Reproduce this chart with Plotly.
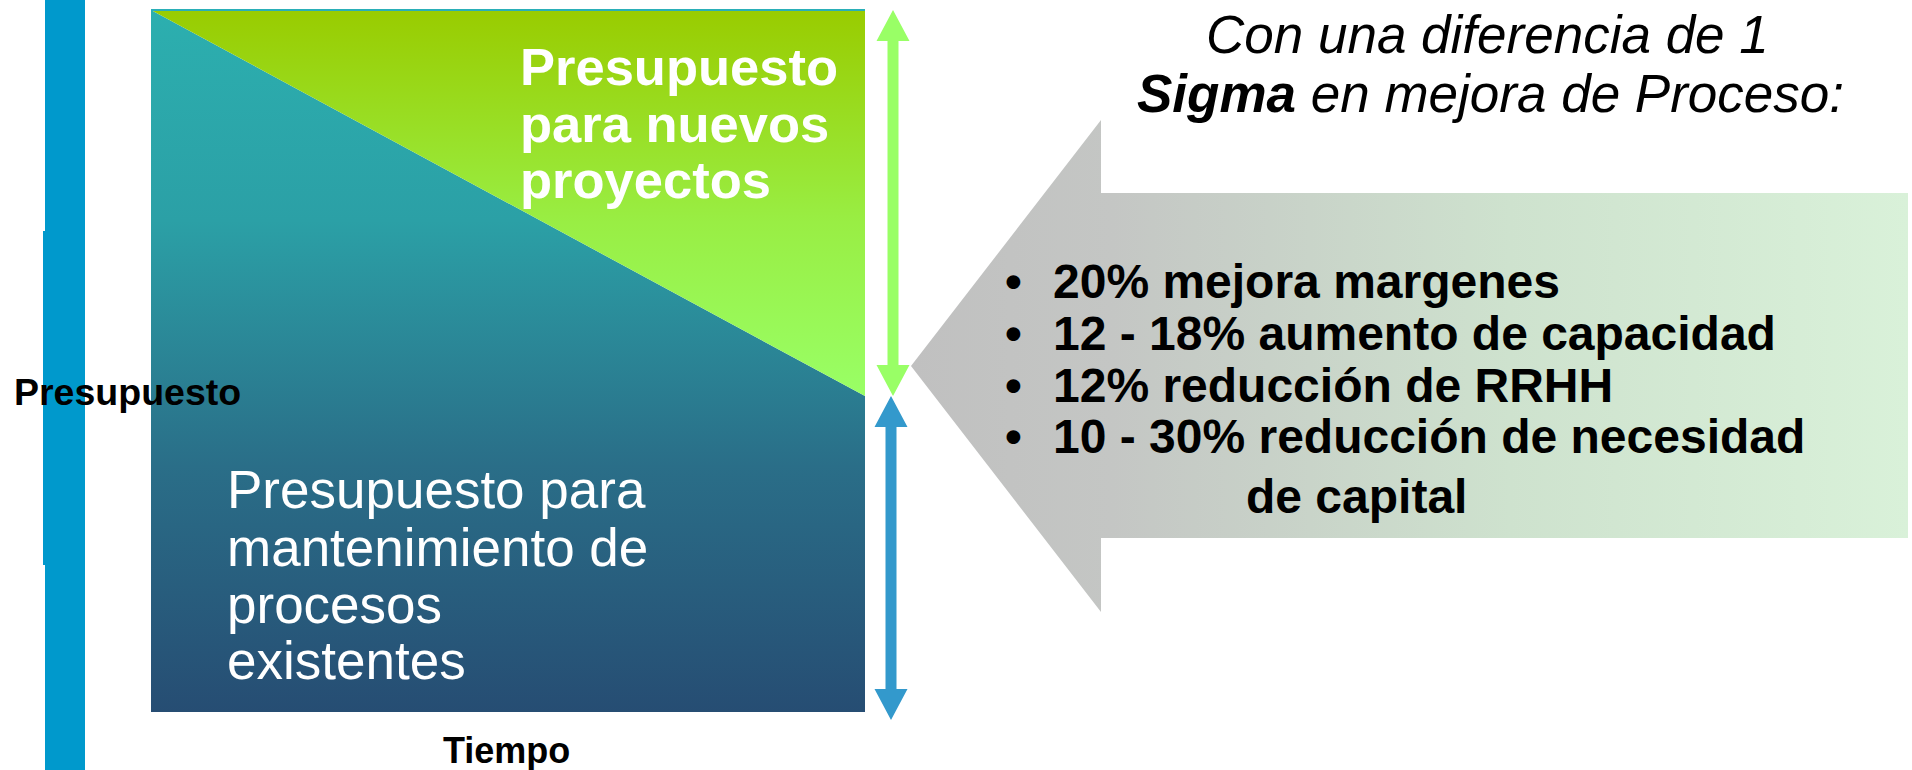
import plotly.graph_objects as go

# ---------------- data ----------------
time_span = [0, 1]                       # start / end of the period shown
maintenance_share = [100, 45]            # % of budget for maintaining existing processes
total_budget = [100, 100]                # total budget (%)
axis_labels = {"y": "Presupuesto", "x": "Tiempo"}
new_projects_label = ["Presupuesto", "para nuevos", "proyectos"]
maintenance_label = ["Presupuesto para", "mantenimiento de", "procesos", "existentes"]
title_lines = ["<i>Con una diferencia de 1</i>",
               "<i><b>Sigma</b> en mejora de Proceso:</i>"]
bullet_items = ["20% mejora margenes",
                "12 - 18% aumento de capacidad",
                "12% reducción de RRHH",
                "10 - 30% reducción de necesidad"]
bullet_continuation = "de capital"

# ---------------- layout geometry (pixels) ----------------
W, H = 1912, 770
BX0, BX1, BY0, BY1 = 151, 865, 10, 712          # budget box on page
sx = (BX1 - BX0) / (time_span[1] - time_span[0])
sy = (BY1 - BY0) / total_budget[0]
FONT = "Liberation Sans, Arial, sans-serif"

fig = go.Figure()

t0, t1 = time_span
m0, m1 = maintenance_share
top0, top1 = total_budget

# maintenance area (vertical gradient teal -> dark blue)
fig.add_trace(go.Scatter(
    x=[t0, t0, t1, t1, t0], y=[0, m0, m1, 0, 0], mode="lines", fill="toself",
    line=dict(width=0),
    fillgradient=dict(type="vertical", start=0, stop=top0,
                      colorscale=[[0, "#264D73"], [0.35, "#2A6E88"],
                                  [0.7, "#2BA0A6"], [1, "#2CAFAF"]]),
    hoverinfo="skip", xaxis="x", yaxis="y"))

# new projects area (vertical gradient light green -> olive green)
fig.add_trace(go.Scatter(
    x=[t0, t1, t1, t0], y=[top0, top1, m1, top0], mode="lines", fill="toself",
    line=dict(width=0),
    fillgradient=dict(type="vertical", start=m1, stop=top1,
                      colorscale=[[0, "#99FF66"], [0.45, "#99EE44"], [1, "#99CC00"]]),
    hoverinfo="skip", xaxis="x", yaxis="y"))

# thin top edge of the box
fig.add_trace(go.Scatter(x=[t0, t1], y=[top0, top1], mode="lines",
                         line=dict(color="#2AAFB8", width=2),
                         hoverinfo="skip", xaxis="x", yaxis="y"))


def double_arrow(x_px, y_top, y_bot, color, shaft_px=11, head_w_px=33, head_l_px=31):
    x = (x_px - BX0) / sx
    hw = head_w_px / 2 / sx
    sw = shaft_px / 2 / sx
    hl = head_l_px / sy
    xs = [x, x + hw, x + sw, x + sw, x + hw, x, x - hw, x - sw, x - sw, x - hw, x]
    ys = [y_top, y_top - hl, y_top - hl, y_bot + hl, y_bot + hl, y_bot,
          y_bot + hl, y_bot + hl, y_top - hl, y_top - hl, y_top]
    fig.add_trace(go.Scatter(x=xs, y=ys, mode="lines", fill="toself",
                             fillcolor=color, line=dict(width=0),
                             hoverinfo="skip", xaxis="x", yaxis="y"))


overshoot = 8 / sy
double_arrow(893, top1, m1, "#99FF66")
double_arrow(891, m1, 0 - overshoot, "#3399CC")

# big gray/green arrow (pixel axes)
gx = [911, 1101, 1101, 1908, 1908, 1101, 1101, 911]
gy = [366, 120, 193, 193, 538, 538, 612, 366]
fig.add_trace(go.Scatter(
    x=gx, y=gy, mode="lines", fill="toself", line=dict(width=0),
    fillgradient=dict(type="horizontal", start=911, stop=1908,
                      colorscale=[[0, "#C0C0C0"], [0.2, "#C4C6C4"],
                                  [0.6, "#CEE2CE"], [1, "#D9F1D9"]]),
    hoverinfo="skip", xaxis="x2", yaxis="y2"))

# vertical blue bar on the left
shapes = [
    dict(type="rect", xref="x2", yref="y2", x0=45, x1=85, y0=0, y1=H,
         fillcolor="#0099CC", line=dict(width=0), layer="below"),
    dict(type="rect", xref="x2", yref="y2", x0=43, x1=85, y0=231, y1=565,
         fillcolor="#0099CC", line=dict(width=0), layer="below"),
]

annotations = []


def add_text(text, x, baseline, size, color="black", anchor="left", bold=False):
    if bold:
        text = "<b>" + text + "</b>"
    dx = -2 if anchor == "left" else 0
    annotations.append(dict(
        text=text, x=x + dx, y=baseline - 0.3465 * size, xref="x2", yref="y2",
        xanchor=anchor, yanchor="middle", showarrow=False,
        font=dict(family=FONT, size=size, color=color)))


# axis labels
add_text(axis_labels["y"], 127, 405, 37.5, anchor="center", bold=True)
add_text(axis_labels["x"], 506, 763, 36, anchor="center", bold=True)

# region labels
for line, base in zip(new_projects_label, [85, 142, 198]):
    add_text(line, 520, base, 52.5, color="white", bold=True)
for line, base in zip(maintenance_label, [508, 566, 623, 679]):
    add_text(line, 227, base, 53, color="white")

# title
for line, base, cx in zip(title_lines, [53, 112], [1487, 1490]):
    add_text(line, cx, base, 53, anchor="center")

# bullets
for item, base in zip(bullet_items, [298, 350, 402, 453]):
    add_text("•", 1013, base, 48, anchor="center", bold=True)
    add_text(item, 1053, base, 48, bold=True)
add_text(bullet_continuation, 1246, 513, 48, bold=True)

hidden = dict(showgrid=False, zeroline=False, showticklabels=False, ticks="",
              showline=False, fixedrange=True)
fig.update_layout(
    width=W, height=H, margin=dict(l=0, r=0, t=0, b=0, pad=0),
    paper_bgcolor="white", plot_bgcolor="white", showlegend=False,
    xaxis=dict(range=[t0 - BX0 / sx, t0 + (W - BX0) / sx], domain=[0, 1], **hidden),
    yaxis=dict(range=[-(H - BY1) / sy, BY1 / sy], domain=[0, 1], **hidden),
    xaxis2=dict(range=[0, W], overlaying="x", **hidden),
    yaxis2=dict(range=[H, 0], overlaying="y", **hidden),
    shapes=shapes, annotations=annotations,
)

fig.write_html("out.html", config={"displayModeBar": False})
